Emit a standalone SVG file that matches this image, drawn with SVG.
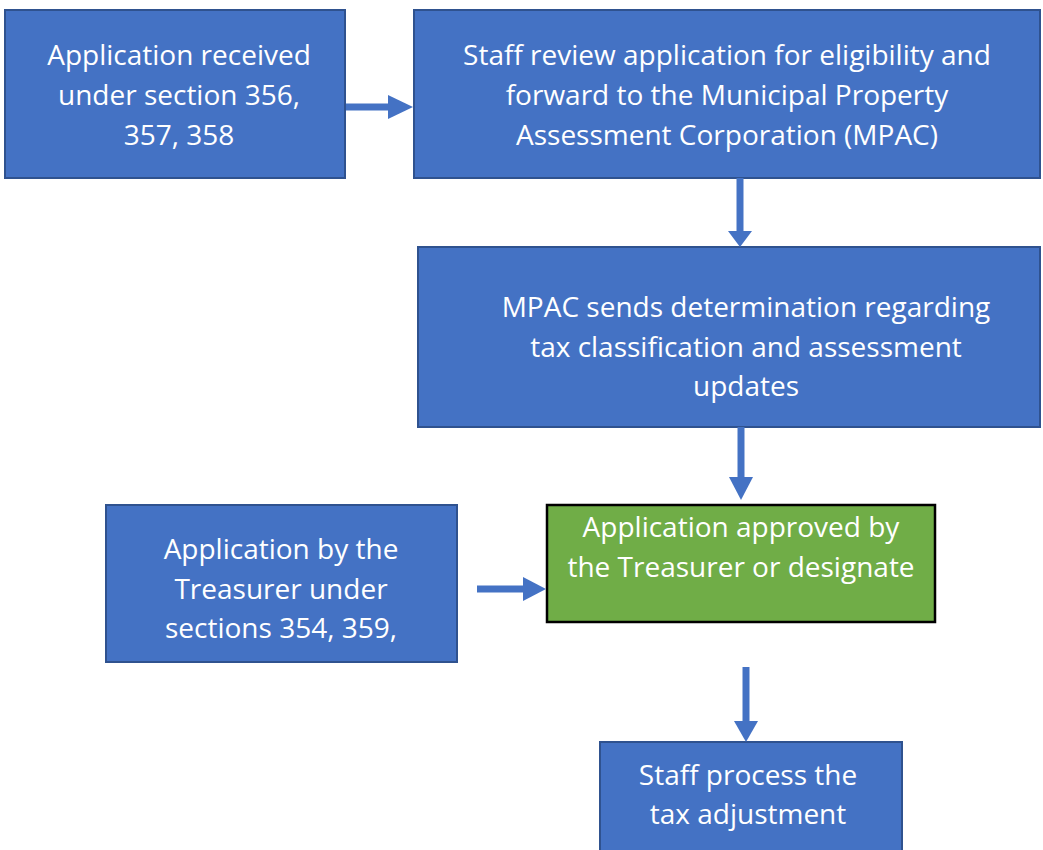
<svg xmlns="http://www.w3.org/2000/svg" width="1043" height="850" viewBox="0 0 1043 850">
<style>
.box{fill:#4472C4;stroke:#2F528F;stroke-width:2}
.green{fill:#70AD47;stroke:#000;stroke-width:2.5}
.t{font-family:"Open Sans","Noto Sans","Liberation Sans",sans-serif;font-size:28px;fill:#fff;text-anchor:middle}
.c{stroke:#4472C4;stroke-width:7;fill:none}
.h{fill:#4472C4}
</style>
<rect width="1043" height="850" fill="#fff"/>
<g id="n1"><rect class="box" x="5" y="10" width="340" height="168"/>
<text class="t" x="179" y="65">Application received</text>
<text class="t" x="179" y="105">under section 356,</text>
<text class="t" x="179" y="145">357, 358</text></g>
<g id="n2"><rect class="box" x="414" y="10" width="626" height="168"/>
<text class="t" x="727" y="65">Staff review application for eligibility and</text>
<text class="t" x="727" y="105">forward to the Municipal Property</text>
<text class="t" x="727" y="145">Assessment Corporation (MPAC)</text></g>
<g id="n3"><rect class="box" x="418" y="247" width="622" height="180"/>
<text class="t" x="746" y="317">MPAC sends determination regarding</text>
<text class="t" x="746" y="357">tax classification and assessment</text>
<text class="t" x="746" y="396">updates</text></g>
<g id="n4"><rect class="green" x="547" y="505" width="388" height="117"/>
<text class="t" x="741" y="537">Application approved by</text>
<text class="t" x="741" y="577">the Treasurer or designate</text></g>
<g id="n5"><rect class="box" x="106" y="505" width="351" height="157"/>
<text class="t" x="281" y="559">Application by the</text>
<text class="t" x="281" y="599">Treasurer under</text>
<text class="t" x="281" y="638">sections 354, 359,</text></g>
<g id="n6"><rect class="box" x="600" y="742" width="302" height="120"/>
<text class="t" x="748" y="785">Staff process the</text>
<text class="t" x="748" y="824">tax adjustment</text></g>
<g id="connectors">
<line class="c" x1="346" y1="107" x2="390" y2="107"/><polygon class="h" points="388,95 413,107 388,119"/>
<line class="c" x1="740" y1="178" x2="740" y2="233"/><polygon class="h" points="728,231 740,247 752,231"/>
<line class="c" x1="741" y1="427" x2="741" y2="479"/><polygon class="h" points="729,477 741,500 753,477"/>
<line class="c" x1="477" y1="589" x2="525" y2="589"/><polygon class="h" points="523,577 546,589 523,601"/>
<line class="c" x1="746" y1="667" x2="746" y2="723"/><polygon class="h" points="734,721 746,742 758,721"/>
</g>
</svg>
